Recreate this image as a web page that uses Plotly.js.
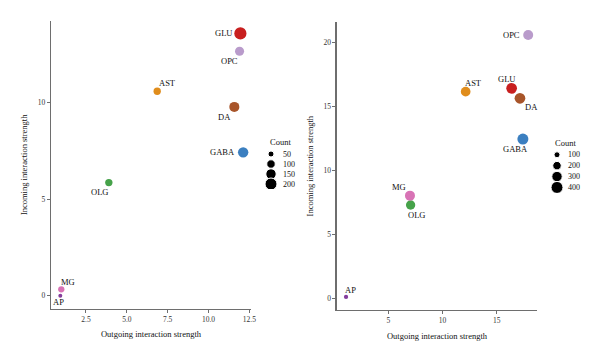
<!DOCTYPE html>
<html>
<head>
<meta charset="utf-8">
<script src="https://cdn.plot.ly/plotly-3.0.1.min.js"></script>
<style>html,body{margin:0;padding:0;background:#fff}#chart{width:600px;height:360px}</style>
</head>
<body>
<div id="chart"></div>
<script>
// ---- Data ----
var cellTypes = ["GLU","OPC","AST","DA","GABA","OLG","MG","AP"];
var colors = ["#c81f1f","#b99bcb","#e08d1c","#a8552a","#3b7fc0","#46a24a","#d873b5","#853d9c"];

// Panel A
var outA = [11.95, 11.90, 6.86, 11.58, 12.12, 3.90, 0.99, 0.93];
var inA  = [13.56, 12.64, 10.57, 9.76, 7.41, 5.85, 0.33, 0.00];
var countA = [205, 115, 75, 140, 150, 75, 55, 22];
var legendCountsA = [50, 100, 150, 200];

// Panel B
var outB = [16.38, 17.91, 12.14, 17.15, 17.42, 7.06, 7.00, 1.10];
var inB  = [16.43, 20.60, 16.17, 15.65, 12.46, 7.30, 8.03, 0.10];
var countB = [318, 278, 261, 318, 336, 240, 278, 51];
var legendCountsB = [100, 200, 300, 400];

var xTicksA = [2.5, 5, 7.5, 10, 12.5];
var yTicksA = [0, 5, 10];
var xTicksB = [5, 10, 15];
var yTicksB = [0, 5, 10, 15, 20];

// label placement (style): anchor, xshift, yshift
var labA = {
  GLU:["right",-6.5,0], OPC:["right",0,-9.5], AST:["left",0,8.4], DA:["right",-1.5,-10],
  GABA:["right",-6,0], OLG:["right",1.3,-9.3], MG:["left",-2.3,7.6], AP:["center",-1.6,-6.7]
};
var labB = {
  GLU:["center",-5,9.3], OPC:["right",-6,0], AST:["left",-3,9], DA:["left",2.7,-9],
  GABA:["center",-7,-10.3], OLG:["left",-4.7,-10], MG:["right",-1.7,8.4], AP:["center",4,7]
};

var SERIF = "Liberation Serif, Times New Roman, serif";
var TXT = "#111";
var refA = 2/0.72, refB = 2/0.36;

var traces = [
  {x: outA, y: inA, xaxis:"x", yaxis:"y", mode:"markers", type:"scatter",
   marker:{size: countA, sizemode:"area", sizeref: refA, color: colors, opacity:1, line:{width:0}}, hoverinfo:"skip"},
  {x: outB, y: inB, xaxis:"x2", yaxis:"y2", mode:"markers", type:"scatter",
   marker:{size: countB, sizemode:"area", sizeref: refB, color: colors, opacity:1, line:{width:0}}, hoverinfo:"skip"},
  {x: legendCountsA.map(function(){return 0.15;}), y: legendCountsA.map(function(_,i){return i;}),
   xaxis:"x3", yaxis:"y3", mode:"markers", type:"scatter",
   marker:{size: legendCountsA, sizemode:"area", sizeref: refA, color:"#000", opacity:1}, hoverinfo:"skip"},
  {x: legendCountsB.map(function(){return 0.15;}), y: legendCountsB.map(function(_,i){return i;}),
   xaxis:"x4", yaxis:"y4", mode:"markers", type:"scatter",
   marker:{size: legendCountsB, sizemode:"area", sizeref: refB, color:"#000", opacity:1}, hoverinfo:"skip"}
];

var annotations = [];
function addLabels(xs, ys, lab, xr, yr) {
  cellTypes.forEach(function(c, i) {
    var p = lab[c];
    annotations.push({x: xs[i], y: ys[i], xref: xr, yref: yr, text: c, showarrow:false,
      xanchor: p[0], yanchor:"middle", xshift: p[1], yshift: p[2],
      font:{family:SERIF, size:8.5, color:TXT}});
  });
}
addLabels(outA, inA, labA, "x", "y");
addLabels(outB, inB, labB, "x2", "y2");
function addLegendLabels(vals, xr, yr, shift) {
  vals.forEach(function(v, i) {
    annotations.push({x: 0.15, y: i, xref: xr, yref: yr, text: String(v), showarrow:false,
      xanchor:"left", yanchor:"middle", xshift: shift, font:{family:SERIF, size:8, color:TXT}});
  });
}
addLegendLabels(legendCountsA, "x3", "y3", 9.5);
addLegendLabels(legendCountsB, "x4", "y4", 8.5);
annotations.push({x: 280/600, y: 1-142/360, xref:"paper", yref:"paper", text:"Count", showarrow:false,
  xanchor:"center", yanchor:"middle", font:{family:SERIF, size:8.5, color:TXT}});
annotations.push({x: 565/600, y: 1-143/360, xref:"paper", yref:"paper", text:"Count", showarrow:false,
  xanchor:"center", yanchor:"middle", font:{family:SERIF, size:8.5, color:TXT}});

var AX = {showgrid:false, zeroline:false, showline:true, linecolor:"#6e6e6e", linewidth:1.3,
  ticks:"outside", ticklen:3, tickcolor:"#6e6e6e", tickwidth:1,
  tickfont:{family:SERIF, size:7.5, color:"#333"}};
function ax(extra){ var o = JSON.parse(JSON.stringify(AX)); for (var k in extra) o[k]=extra[k]; return o; }
var titleFont = {family:SERIF, size:8.5, color:TXT};
var hidden = {visible:false, fixedrange:true};

var layout = {
  width:600, height:360, margin:{l:0,r:0,t:0,b:0},
  paper_bgcolor:"#fff", plot_bgcolor:"#fff", showlegend:false,
  xaxis: ax({domain:[51/600, 251/600], range:[0.36, 12.6], tickvals:xTicksA, tickformat:".1f",
    title:{text:"Outgoing interaction strength", font:titleFont, standoff:8}, anchor:"y"}),
  yaxis: ax({domain:[1-308.7/360, 1-21/360], range:[-0.67, 14.2], tickvals:yTicksA,
    title:{text:"Incoming interaction strength", font:titleFont, standoff:8}, anchor:"x"}),
  xaxis2: ax({domain:[336.7/600, 537.3/600], range:[0.24, 18.75], tickvals:xTicksB,
    title:{text:"Outgoing interaction strength", font:titleFont, standoff:8}, anchor:"y2"}),
  yaxis2: ax({domain:[1-310/360, 1-22.3/360], range:[-0.92, 21.6], tickvals:yTicksB,
    title:{text:"Incoming interaction strength", font:titleFont, standoff:8}, anchor:"x2"}),
  xaxis3: Object.assign({domain:[265/600, 305/600], range:[0,1], anchor:"y3"}, hidden),
  yaxis3: Object.assign({domain:[1-189/360, 1-149/360], range:[3.5,-0.5], anchor:"x3"}, hidden),
  xaxis4: Object.assign({domain:[551/600, 591/600], range:[0,1], anchor:"y4"}, hidden),
  yaxis4: Object.assign({domain:[1-192.9/360, 1-149.3/360], range:[3.5,-0.5], anchor:"x4"}, hidden),
  annotations: annotations
};

Plotly.newPlot("chart", traces, layout, {displayModeBar:false, staticPlot:true});
</script>
</body>
</html>
